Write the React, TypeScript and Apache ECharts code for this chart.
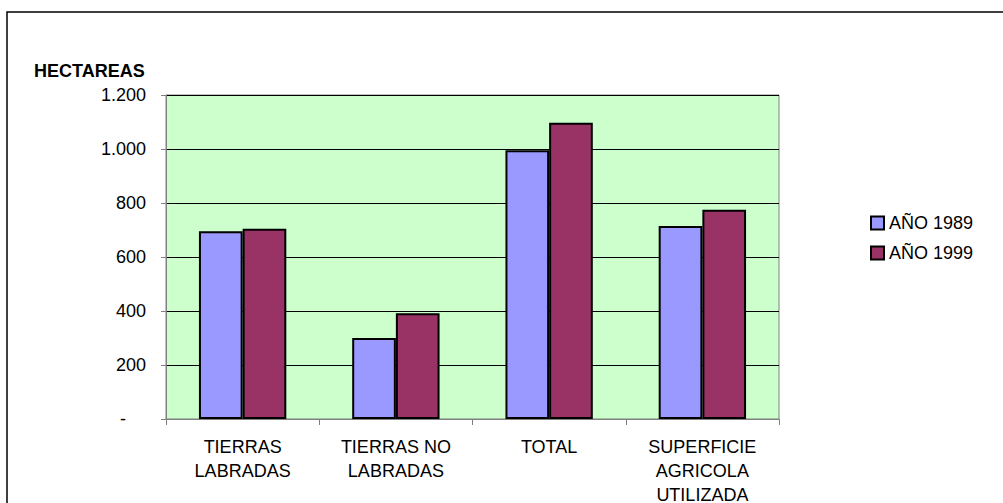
import React, { useEffect, useRef } from "react";
import * as echarts from "echarts";

const categories = [
  "TIERRAS\nLABRADAS",
  "TIERRAS NO\nLABRADAS",
  "TOTAL",
  "SUPERFICIE\nAGRICOLA\nUTILIZADA",
];
const seriesNames = ["AÑO 1989", "AÑO 1999"];
const values1989 = [695, 300, 995, 715];
const values1999 = [705, 392, 1097, 775];
const yTicks = { min: 0, max: 1200, interval: 200 };

const FONT = "'Liberation Sans', Arial, sans-serif";

function fmt(v: number): string {
  if (v === 0) return "{d|-}";
  return String(v).replace(/\B(?=(\d{3})+(?!\d))/g, ".");
}

export default function App() {
  const ref = useRef<HTMLDivElement>(null);
  useEffect(() => {
    document.body.style.margin = "0";
    const chart = echarts.init(ref.current!, null, { renderer: "svg" });
    chart.setOption({
      animation: false,
      backgroundColor: "#ffffff",
      textStyle: { fontFamily: FONT },
      title: {
        text: "HECTAREAS",
        left: 34,
        top: 62,
        padding: 0,
        textStyle: { fontFamily: FONT, fontSize: 18, fontWeight: "bold", color: "#000", lineHeight: 18 },
      },
      graphic: [
        {
          type: "rect",
          shape: { x: 7, y: 12, width: 1100, height: 700 },
          style: { fill: "none", stroke: "#000", lineWidth: 1.5 },
          silent: true,
        },
      ],
      legend: {
        orient: "vertical",
        left: 865,
        top: 209,
        itemWidth: 13,
        itemHeight: 13,
        itemGap: 12,
        icon: "rect",
        textStyle: { fontFamily: FONT, fontSize: 18, color: "#000", lineHeight: 18 },
        data: seriesNames,
      },
      grid: {
        left: 166,
        top: 95,
        width: 613,
        height: 324,
        outerBoundsMode: "none",
        containLabel: false,
        show: true,
        backgroundColor: "#CCFFCC",
        borderColor: "#808080",
        borderWidth: 1,
      },
      xAxis: {
        type: "category",
        data: categories,
        axisLine: { lineStyle: { color: "#808080", width: 1 } },
        axisTick: { show: true, length: 6, lineStyle: { color: "#808080" } },
        axisLabel: {
          interval: 0,
          margin: 16,
          fontFamily: FONT,
          fontSize: 18,
          lineHeight: 24,
          color: "#000",
          align: "center",
        },
      },
      yAxis: {
        type: "value",
        min: yTicks.min,
        max: yTicks.max,
        interval: yTicks.interval,
        axisLine: { show: true, lineStyle: { color: "#808080", width: 1 } },
        axisTick: { show: true, length: 5, lineStyle: { color: "#808080" } },
        splitLine: { show: true, lineStyle: { color: "#000", width: 1 } },
        axisLabel: {
          margin: 20,
          fontFamily: FONT,
          fontSize: 18,
          color: "#000",
          formatter: fmt,
          rich: { d: { fontFamily: FONT, fontSize: 18, color: "#000", padding: [0, 20, 0, 0] } },
        },
      },
      series: [
        {
          name: seriesNames[0],
          type: "bar",
          data: values1989,
          barGap: "0%",
          barCategoryGap: "43%",
          itemStyle: { color: "#9999FF", borderColor: "#000", borderWidth: 2 },
        },
        {
          name: seriesNames[1],
          type: "bar",
          data: values1999,
          barGap: "0%",
          barCategoryGap: "43%",
          itemStyle: { color: "#993366", borderColor: "#000", borderWidth: 2 },
        },
      ],
    });
    return () => chart.dispose();
  }, []);
  return <div ref={ref} style={{ width: 1003, height: 503 }} />;
}
